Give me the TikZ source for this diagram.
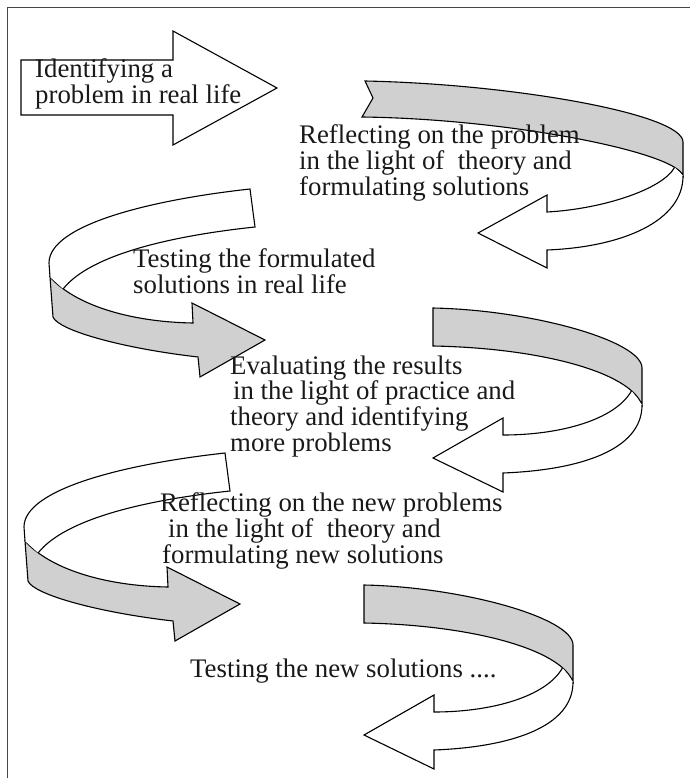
\documentclass[tikz,border=0pt]{standalone}
\usepackage{fontspec}
\setmainfont{Liberation Serif}
\definecolor{ribbon}{RGB}{208,208,208}
\definecolor{framecol}{RGB}{70,70,70}
\tikzset{
  band/.style={draw=black, line width=1.1pt},
  backside/.style={band, fill=ribbon},
  frontside/.style={band, fill=white},
  lbl/.style={anchor=base west, inner sep=0pt, align=left, text=black!90},
  lead/.style={font=\fontsize{26.8}{#1}\selectfont}
}
\newcommand\leftloop[1]{%
  \filldraw[backside] (50,277) .. controls (75,305) and (130,322) .. (193,323) coordinate[pos=.15] (#1)
    -- (192,303) -- (265,340) -- (200,377) -- (198,357)
    .. controls (120,348) and (58,330) .. (53,317) -- cycle;
  \filldraw[frontside] (#1) .. controls (90,255) and (170,236) .. (255,227) -- (250,189)
    .. controls (150,200) and (49,225) .. (49,263) -- (50,277);
}
\newcommand\rightloop[1]{%
  \filldraw[backside] (-209,38) .. controls (-102,40) and (-12,64) .. (0,97) coordinate[pos=.85] (#1)
    -- (0,60) .. controls (0,33) and (-110,2) .. (-209,0) -- cycle;
  \filldraw[frontside] (#1) .. controls (-27,112) and (-82,127) .. (-139,127)
    -- (-139,110) -- (-209,150) -- (-139,184) -- (-139,165)
    .. controls (-62,162) and (0,142) .. (0,97);
}
\begin{document}
\begin{tikzpicture}[x=1pt,y=-1pt]
\useasboundingbox (0,0) rectangle (690,778);
\draw[framecol, line width=1.3pt] (7.5,778) -- (7.5,7.5) -- (690,7.5);

% straight arrow
\filldraw[frontside] (21,60) -- (173,60) -- (173,31) -- (277,88) -- (173,145) -- (173,115) -- (21,115) -- cycle;

% first right loop (long, notched tail)
\begin{scope}[shift={(683,81)}]
  \filldraw[backside] (-321,36) .. controls (-170,38) and (-5,72) .. (0,95) coordinate[pos=.88] (cr1)
    -- (0,61) .. controls (0,33) and (-170,3) .. (-318,0) -- (-310,17) -- cycle;
  \filldraw[frontside] (cr1) .. controls (-20,108) and (-80,128) .. (-136,131)
    -- (-136,114) -- (-205,152) -- (-136,187) -- (-136,169)
    .. controls (-60,166) and (0,140) .. (0,95);
\end{scope}

% left loops
\begin{scope}[shift={(0,0)}]\leftloop{cl1}\end{scope}
\begin{scope}[shift={(-25,264)}]\leftloop{cl2}\end{scope}

% right loops
\begin{scope}[shift={(642,308)}]\rightloop{cr2}\end{scope}
\begin{scope}[shift={(573,585)}]\rightloop{cr3}\end{scope}

% texts (anchored at the baseline of their last line)
\node[lbl, lead=20.5] (t1) at (35,103.5) {Identifying a\\problem in real life};
\node[lbl, lead=21.5] (t2) at (299,195) {Reflecting on the problem\\in the light of~ theory and\\formulating solutions};
\node[lbl, lead=21] (t3) at (133,293) {Testing the formulated\\solutions in real life};
\node[lbl, lead=21.3] (t4) at (230,451) {Evaluating the results\\\hspace*{3pt}in the light of practice and\\theory and identifying\\more problems};
\node[lbl, lead=21.5] (t5) at (160,563) {Reflecting on the new problems\\\hspace*{8pt}in the light of~ theory and\\\hspace*{2pt}formulating new solutions};
\node[lbl, lead=21] (t6) at (190,677) {Testing the new solutions ....};
\end{tikzpicture}
\end{document}
